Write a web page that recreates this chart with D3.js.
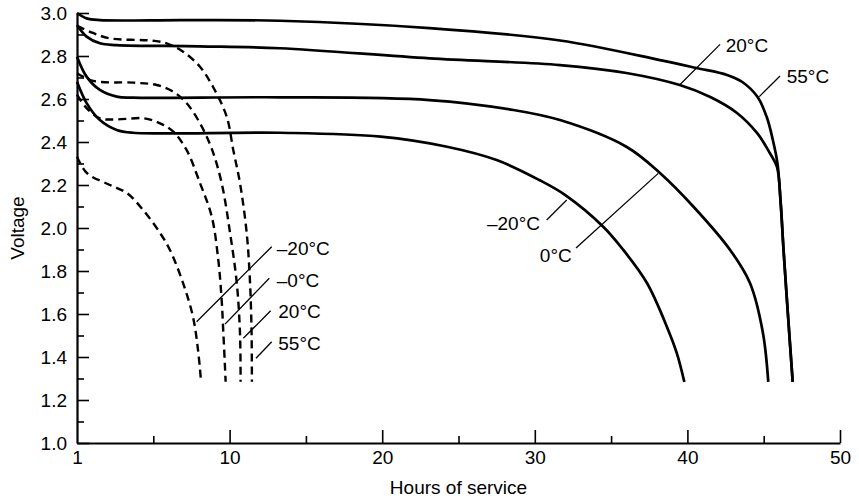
<!DOCTYPE html>
<html>
<head>
<meta charset="utf-8">
<script src="https://cdn.jsdelivr.net/npm/d3@7"></script>
<style>
  html, body { margin: 0; padding: 0; background: #fff; }
  svg { display: block; }
  text { font-family: "Liberation Sans", Arial, sans-serif; fill: #000; }
</style>
</head>
<body>
<svg id="chart" width="859" height="500"></svg>
<script>
// ---------------- data ----------------
const xTicks = [0, 10, 20, 30, 40, 50];
const xTickLabels = ["1", "10", "20", "30", "40", "50"];
const xMinorTicks = [5, 15, 25, 35, 45];
const yTicks = [1.0, 1.2, 1.4, 1.6, 1.8, 2.0, 2.2, 2.4, 2.6, 2.8, 3.0];
const yTickLabels = ["1.0", "1.2", "1.4", "1.6", "1.8", "2.0", "2.2", "2.4", "2.6", "2.8", "3.0"];
const yMinorTicks = [1.1, 1.3, 1.5, 1.7, 1.9, 2.1, 2.3, 2.5, 2.7, 2.9];

// solid curves (higher-rate cells)
const solid55Hours = [0, 0.63, 1.5, 7, 13.3, 23.1, 31.65, 38.2, 40.6, 42.6, 43.6, 44.6, 45.2, 45.6, 45.9, 46.1, 46.3, 46.6, 46.9];
const solid55Volts = [3.0, 2.975, 2.967, 2.967, 2.964, 2.93, 2.872, 2.781, 2.744, 2.712, 2.679, 2.609, 2.516, 2.409, 2.302, 2.13, 1.898, 1.586, 1.284];
const solid20Hours = [0, 0.63, 1.5, 2.6, 8, 13.3, 23.1, 31.65, 36.0, 39.5, 41.5, 43.25, 44.56, 45.4, 45.87, 46.1, 46.3, 46.6, 46.9];
const solid20Volts = [2.944, 2.89, 2.859, 2.851, 2.845, 2.836, 2.789, 2.758, 2.721, 2.665, 2.609, 2.535, 2.442, 2.349, 2.284, 2.13, 1.898, 1.586, 1.284];
const solid0Hours = [0, 0.63, 1.5, 2.6, 3.67, 13.3, 23.1, 28.6, 31.65, 36.0, 38.2, 40.4, 42.8, 44.1, 44.95, 45.3];
const solid0Volts = [2.797, 2.704, 2.642, 2.611, 2.606, 2.608, 2.595, 2.549, 2.502, 2.378, 2.256, 2.099, 1.898, 1.744, 1.512, 1.284];
const solidM20Hours = [0, 0.63, 1.5, 2.6, 3.67, 13.3, 19.9, 24.25, 27.5, 30.3, 32.0, 34.5, 35.8, 37.35, 38.66, 39.3, 39.8];
const solidM20Volts = [2.680, 2.581, 2.502, 2.456, 2.443, 2.443, 2.425, 2.378, 2.316, 2.223, 2.153, 2.005, 1.898, 1.744, 1.540, 1.419, 1.284];

// dashed curves
const dashed55Hours = [0, 1.05, 2.16, 4.98, 5.88, 6.95, 8.06, 8.91, 9.81, 10.24, 10.68, 11.12, 11.34, 11.44, 11.46];
const dashed55Volts = [2.94, 2.907, 2.882, 2.871, 2.859, 2.82, 2.75, 2.657, 2.518, 2.363, 2.209, 1.977, 1.744, 1.512, 1.285];
const dashed20Hours = [0, 1.07, 3.69, 5.22, 6.31, 7.19, 8.06, 8.82, 9.48, 10.03, 10.47, 10.68, 10.72];
const dashed20Volts = [2.72, 2.684, 2.676, 2.665, 2.634, 2.58, 2.487, 2.37, 2.209, 1.977, 1.744, 1.512, 1.285];
const dashed0Hours = [0, 0.6, 1.5, 2.6, 4.4, 5.44, 6.31, 7.18, 8.06, 8.83, 9.26, 9.48, 9.59, 9.7, 9.74];
const dashed0Volts = [2.62, 2.56, 2.51, 2.505, 2.51, 2.487, 2.448, 2.363, 2.209, 2.053, 1.851, 1.665, 1.512, 1.35, 1.285];
const dashedM20Hours = [0, 0.64, 2.16, 3.26, 4.33, 5.44, 6.09, 6.95, 7.6, 7.93, 8.13];
const dashedM20Volts = [2.332, 2.256, 2.2, 2.163, 2.084, 1.977, 1.898, 1.744, 1.587, 1.433, 1.285];

// labels with leader lines (data units): text, text anchor point, leader from, leader to
const labelTexts = ["–20°C", "–0°C", "20°C", "55°C", "20°C", "55°C", "–20°C", "0°C"];
const labelHours = [13.09, 13.09, 13.19, 13.19, 42.51, 46.51, 30.34, 32.42];
const labelVolts = [1.906, 1.758, 1.611, 1.464, 2.848, 2.704, 2.022, 1.874];
const labelSide = ["start", "start", "start", "start", "start", "start", "end", "end"];
const leaderH1 = [7.84, 9.70, 10.90, 11.73, 39.47, 44.71, 30.78, 32.70];
const leaderV1 = [1.564, 1.553, 1.487, 1.394, 2.664, 2.611, 2.037, 1.907];
const leaderH2 = [12.76, 12.60, 12.69, 12.76, 42.14, 46.07, 32.09, 38.09];
const leaderV2 = [1.913, 1.766, 1.615, 1.471, 2.854, 2.707, 2.130, 2.254];

const xTitle = "Hours of service";
const yTitle = "Voltage";

// ---------------- drawing ----------------
const svg = d3.select("#chart");
const x = d3.scaleLinear().domain([0, 50]).range([77, 840]);
const y = d3.scaleLinear().domain([1.0, 3.0]).range([443, 13]);
const FONT = 19;

const series = [
  {h: solid55Hours, v: solid55Volts, dash: null},
  {h: solid20Hours, v: solid20Volts, dash: null},
  {h: solid0Hours, v: solid0Volts, dash: null},
  {h: solidM20Hours, v: solidM20Volts, dash: null},
  {h: dashed55Hours, v: dashed55Volts, dash: "8,5"},
  {h: dashed20Hours, v: dashed20Volts, dash: "8,5"},
  {h: dashed0Hours, v: dashed0Volts, dash: "8,5"},
  {h: dashedM20Hours, v: dashedM20Volts, dash: "8,5"}
];

const line = d3.line()
  .x(d => x(d[0]))
  .y(d => y(d[1]))
  .curve(d3.curveCatmullRom.alpha(0.5));

// axes
function styleAxis(g) {
  g.attr("font-family", null).attr("font-size", null);
  g.selectAll("line").attr("stroke", "#000").attr("stroke-width", 1.6);
  g.selectAll("text").attr("fill", "#000").style("font-size", FONT + "px");
}

svg.append("g")
  .attr("transform", `translate(${x(0)},0)`)
  .call(d3.axisLeft(y).tickValues(yMinorTicks).tickSize(-7).tickFormat(""))
  .call(g => g.select(".domain").remove())
  .call(styleAxis);

svg.append("g")
  .attr("transform", `translate(${x(0)},0)`)
  .call(d3.axisLeft(y).tickValues(yTicks).tickSize(-12).tickSizeOuter(0).tickPadding(10)
    .tickFormat((d, i) => yTickLabels[i]))
  .call(g => g.select(".domain").attr("stroke", "#000").attr("stroke-width", 2.2))
  .call(styleAxis);

svg.append("g")
  .attr("transform", `translate(0,${y(1.0)})`)
  .call(d3.axisBottom(x).tickValues(xMinorTicks).tickSize(-7).tickFormat(""))
  .call(g => g.select(".domain").remove())
  .call(styleAxis);

svg.append("g")
  .attr("transform", `translate(0,${y(1.0)})`)
  .call(d3.axisBottom(x).tickValues(xTicks).tickSize(-13).tickSizeOuter(0).tickPadding(8)
    .tickFormat((d, i) => xTickLabels[i]))
  .call(g => g.select(".domain").attr("stroke", "#000").attr("stroke-width", 2.2))
  .call(g => g.selectAll(".tick").filter(d => d === 0).select("line").remove())
  .call(styleAxis);

// curves
svg.append("g").selectAll("path")
  .data(series)
  .join("path")
  .attr("d", s => line(s.h.map((h, i) => [h, s.v[i]])))
  .attr("fill", "none")
  .attr("stroke", "#000")
  .attr("stroke-width", s => s.dash ? 2.4 : 2.7)
  .attr("stroke-dasharray", s => s.dash)
  .attr("stroke-linejoin", "round");

// leader lines
svg.append("g").selectAll("line")
  .data(labelTexts.map((t, i) => i))
  .join("line")
  .attr("x1", i => x(leaderH1[i])).attr("y1", i => y(leaderV1[i]))
  .attr("x2", i => x(leaderH2[i])).attr("y2", i => y(leaderV2[i]))
  .attr("stroke", "#000").attr("stroke-width", 1.3);

// label texts
svg.append("g").selectAll("text")
  .data(labelTexts.map((t, i) => i))
  .join("text")
  .attr("x", i => x(labelHours[i]))
  .attr("y", i => y(labelVolts[i]))
  .attr("dy", "0.35em")
  .attr("text-anchor", i => labelSide[i])
  .style("font-size", FONT + "px")
  .text(i => labelTexts[i]);

// axis titles
svg.append("text")
  .attr("x", (x(0) + x(50)) / 2)
  .attr("y", 494)
  .attr("text-anchor", "middle")
  .style("font-size", FONT + "px")
  .text(xTitle);

svg.append("text")
  .attr("transform", `translate(24,${y(2.0)}) rotate(-90)`)
  .attr("text-anchor", "middle")
  .style("font-size", FONT + "px")
  .text(yTitle);
</script>
</body>
</html>
